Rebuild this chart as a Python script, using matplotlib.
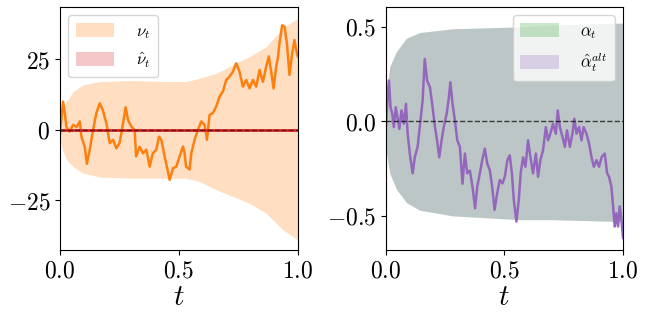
import numpy as np
import matplotlib
matplotlib.use('Agg')
import matplotlib.pyplot as plt

plt.rcParams['mathtext.fontset'] = 'cm'
plt.rcParams['font.family'] = ['DejaVu Serif']

# ---- left panel: nu_t path and its band ----
nu_t = [0, 0.013, 0.02, 0.027, 0.04, 0.055, 0.07, 0.083, 0.09, 0.104, 0.113, 0.125,
        0.139, 0.153, 0.167, 0.18, 0.195, 0.209, 0.223, 0.237, 0.25, 0.258, 0.276,
        0.286, 0.3, 0.314, 0.32, 0.335, 0.349, 0.363, 0.377, 0.39, 0.405, 0.416,
        0.426, 0.44, 0.461, 0.475, 0.489, 0.503, 0.517, 0.524, 0.53, 0.545, 0.552,
        0.566, 0.58, 0.594, 0.608, 0.618, 0.629, 0.643, 0.657, 0.671, 0.685, 0.699,
        0.713, 0.727, 0.741, 0.755, 0.769, 0.783, 0.797, 0.811, 0.825, 0.839, 0.853,
        0.867, 0.878, 0.888, 0.898, 0.909, 0.916, 0.923, 0.934, 0.944, 0.954, 0.965,
        0.976, 0.986, 0.993, 1.0]
nu_v = [-1.2, 10, 6, 1, -0.6, 1.8, 1, 3, -2.4, -6, -12, -7,
        0, 6, 9.4, 7, 2.4, -4.7, -3.5, -6.5, -4.7, -1.2, 8,
        3.5, 1.2, 0, -9.4, -6, -8.3, -7, -13, -8.3, -7, -2.4,
        -3.5, -9.4, -17.7, -13.6, -13, -9.4, -5.9, -8.3, -13, -14, -8.3,
        -3.5, 0, 3, 1.8, -3.5, 5.3, 6, 8.3, 11.8, 13.6, 17.7,
        18.9, 20.6, 23.6, 20.6, 15.3, 17.7, 14.7, 17.7, 15.3, 21.2, 17,
        22.4, 26, 20.6, 14.7, 22.4, 25.4, 30.7, 37, 36.6, 30.7, 19.5,
        27, 31.8, 28.3, 26]

band_t = [0, 0.01, 0.027, 0.055, 0.097, 0.167, 0.307, 0.447, 0.53, 0.587,
          0.657, 0.727, 0.797, 0.867, 0.937, 1.0]
band_up = [3, 7, 10, 13.5, 16, 17.1, 17.5, 17.1, 17.1, 18.3,
           20, 23, 26, 29.5, 36, 39.5]
band_lo = [-3, -7, -10.6, -13, -15.3, -16.7, -17.1, -17.1, -17.1, -18.3,
           -21.2, -23.6, -26, -29.5, -35.4, -39]

# ---- right panel: alpha_hat^alt path and band ----
al_t = [0, 0.008, 0.014, 0.021, 0.028, 0.035, 0.043, 0.05, 0.058, 0.067, 0.077, 0.086,
        0.093, 0.102, 0.114, 0.123, 0.135, 0.144, 0.156, 0.165, 0.175, 0.187, 0.198,
        0.208, 0.217, 0.226, 0.236, 0.245, 0.257, 0.265, 0.273, 0.282, 0.292, 0.302,
        0.313, 0.324, 0.334, 0.344, 0.355, 0.366, 0.377, 0.386, 0.397, 0.407, 0.418,
        0.428, 0.439, 0.449, 0.459, 0.47, 0.481, 0.492, 0.502, 0.513, 0.523, 0.532,
        0.54, 0.551, 0.561, 0.569, 0.579, 0.589, 0.6, 0.61, 0.621, 0.633, 0.642,
        0.652, 0.663, 0.675, 0.684, 0.694, 0.705, 0.717, 0.725, 0.734, 0.745, 0.755,
        0.764, 0.776, 0.787, 0.795, 0.804, 0.815, 0.825, 0.834, 0.846, 0.857, 0.867,
        0.877, 0.888, 0.899, 0.91, 0.923, 0.933, 0.941, 0.951, 0.958, 0.965, 0.972,
        0.979, 0.986, 0.993, 1.0]
al_v = [-0.056, 0.11, 0.216, 0.075, 0.04, -0.03, 0.075, 0.023, -0.04, 0.058, -0.012, 0.093,
        -0.065, -0.17, -0.275, -0.19, -0.135, -0.03, 0.11, 0.33, 0.216, 0.18, 0.075,
        -0.03, -0.1, -0.19, -0.1, -0.03, 0.04, 0.11, 0.207, 0.093, 0.005, -0.1,
        -0.135, -0.33, -0.17, -0.275, -0.26, -0.345, -0.46, -0.345, -0.275, -0.205, -0.144,
        -0.223, -0.258, -0.345, -0.468, -0.38, -0.31, -0.328, -0.293, -0.205, -0.18, -0.275,
        -0.415, -0.53, -0.415, -0.275, -0.19, -0.24, -0.1, -0.19, -0.275, -0.17, -0.293,
        -0.205, -0.153, -0.03, -0.1, -0.065, -0.012, -0.065, 0.058, -0.03, -0.082, -0.135,
        -0.047, -0.135, -0.065, 0.014, -0.065, -0.03, -0.1, -0.03, -0.065, -0.118, -0.188,
        -0.24, -0.205, -0.24, -0.188, -0.17, -0.275, -0.293, -0.345, -0.45, -0.556, -0.486,
        -0.556, -0.45, -0.52, -0.617]

aband_t = [0, 0.004, 0.018, 0.046, 0.088, 0.144, 0.284, 0.425, 0.565, 0.7, 0.85, 1.0]
aband_up = [0.06, 0.16, 0.29, 0.37, 0.44, 0.47, 0.49, 0.495, 0.5, 0.51, 0.515, 0.52]
aband_lo = [-0.06, -0.17, -0.275, -0.36, -0.43, -0.47, -0.5, -0.51, -0.52, -0.52, -0.525, -0.53]

fig = plt.figure(figsize=(6.48, 3.2), dpi=100)
ax1 = fig.add_axes([0.0926, 0.219, 0.367, 0.759])
ax2 = fig.add_axes([0.595, 0.219, 0.3665, 0.759])

leg_kw = dict(fontsize=12, handlelength=2.3, handleheight=0.9, borderpad=0.45,
              labelspacing=0.55, handletextpad=1.3)

# left
ax1.fill_between(band_t, band_lo, band_up, color='C1', alpha=0.25, lw=0, label=r'$\nu_t$')
ax1.fill_between(nu_t, -0.3, 0.3, color='C3', alpha=0.25, lw=0, label=r'$\hat{\nu}_t$')
ax1.plot(nu_t, nu_v, color='C1', lw=1.8)
ax1.plot([0, 1], [0, 0], color='C3', lw=2)
ax1.plot([0, 1], [0, 0], color='k', lw=1, ls='--', alpha=0.5)
ax1.set_xlim(0, 1)
ax1.set_ylim(-42.5, 43.5)
ax1.set_xticks([0, 0.5, 1.0])
ax1.set_xticklabels(['$0.0$', '$0.5$', '$1.0$'], fontsize=17)
ax1.set_yticks([-25, 0, 25])
ax1.set_yticklabels(['$-25$', '$0$', '$25$'], fontsize=17)
ax1.set_xlabel('$t$', fontsize=21, labelpad=0)
ax1.legend(loc='upper left', **leg_kw)

# right
ax2.fill_between(aband_t, aband_lo, aband_up, color='C2', alpha=0.25, lw=0, label=r'$\alpha_t$')
ax2.fill_between(aband_t, aband_lo, aband_up, color='C4', alpha=0.25, lw=0,
                 label=r'$\hat{\alpha}^{alt}_t$')
ax2.plot(al_t, al_v, color='C4', lw=1.8)
ax2.axhline(0, color='k', lw=1, ls='--', alpha=0.7)
ax2.set_xlim(0, 1)
ax2.set_ylim(-0.68, 0.605)
ax2.set_xticks([0, 0.5, 1.0])
ax2.set_xticklabels(['$0.0$', '$0.5$', '$1.0$'], fontsize=17)
ax2.set_yticks([-0.5, 0, 0.5])
ax2.set_yticklabels(['$-0.5$', '$0.0$', '$0.5$'], fontsize=17)
ax2.set_xlabel('$t$', fontsize=21, labelpad=0)
ax2.legend(loc='upper right', **leg_kw)

fig.savefig('out.png', dpi=100)
